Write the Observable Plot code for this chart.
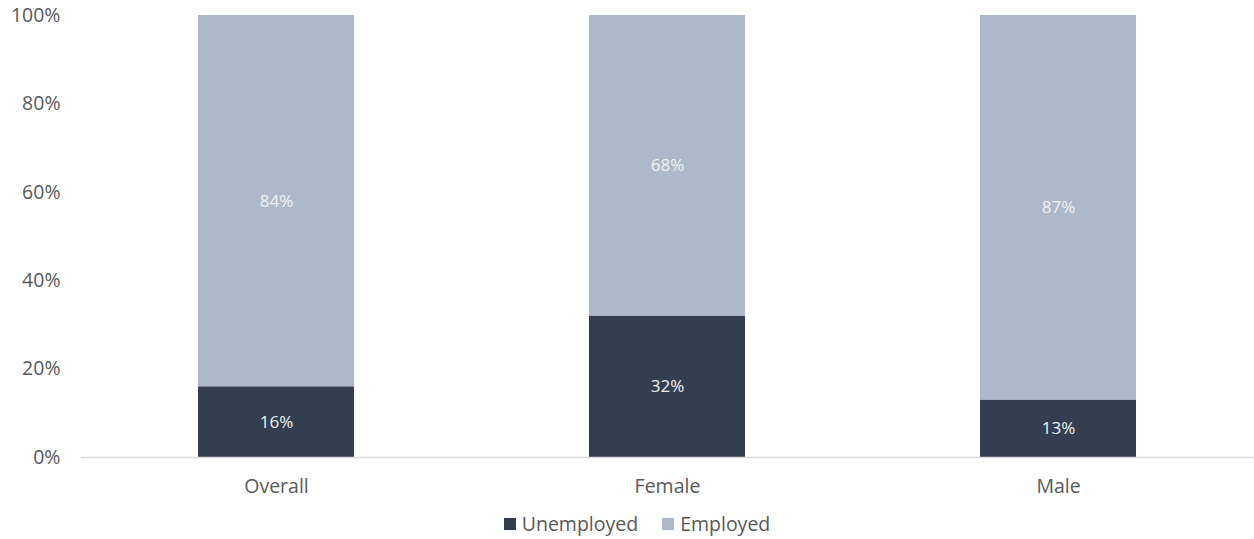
<!DOCTYPE html>
<html>
<head>
<meta charset="utf-8">
<script src="https://cdn.jsdelivr.net/npm/d3@7"></script>
<script src="https://cdn.jsdelivr.net/npm/@observablehq/plot@0.6"></script>
<style>
  html, body { margin: 0; padding: 0; background: #fff; }
  body { width: 1254px; height: 539px; overflow: hidden; font-family: "Open Sans", sans-serif; }
  #legend { display: flex; justify-content: center; gap: 24px; font-size: 19.5px; color: #595959; margin-top: 5px; padding-left: 20px; }
  #legend span.item { display: flex; align-items: center; gap: 6px; }
  #legend span.sw { width: 12px; height: 12px; display: inline-block; }
</style>
</head>
<body>
<div id="chart"></div>
<div id="legend"></div>
<script>
const categories = ["Overall", "Female", "Male"];
const series = ["Unemployed", "Employed"];
const unemployed = [16, 32, 13];
const employed = [84, 68, 87];
const colors = ["#333f50", "#adb9ca"];
const yTicks = [0, 20, 40, 60, 80, 100];

const data = [];
categories.forEach((c, i) => {
  data.push({category: c, series: "Unemployed", value: unemployed[i]});
  data.push({category: c, series: "Employed", value: employed[i]});
});

const chart = Plot.plot({
  width: 1254,
  height: 505,
  marginLeft: 81,
  marginRight: 0,
  marginTop: 15,
  marginBottom: 48,
  style: {fontFamily: "Open Sans, sans-serif", fontSize: "19.5px", color: "#595959", background: "#fff"},
  x: {domain: categories, paddingInner: 0.6, paddingOuter: 0.3, label: null, tickSize: 0, tickPadding: 22},
  y: {domain: [0, 100], ticks: yTicks, tickFormat: d => d + "%", label: null, tickSize: 0, tickPadding: 21},
  color: {domain: series, range: colors},
  marks: [
    Plot.barY(data, {x: "category", y: "value", fill: "series", order: series}),
    Plot.ruleY([0], {stroke: "#d9d9d9", strokeWidth: 1.5}),
    Plot.text(data, Plot.stackY({x: "category", y: "value", z: "series", order: series, text: d => d.value + "%", fill: "#f2f2f2", fontSize: 17}))
  ]
});
document.getElementById("chart").appendChild(chart);

const legend = document.getElementById("legend");
series.forEach((s, i) => {
  const item = document.createElement("span");
  item.className = "item";
  const sw = document.createElement("span");
  sw.className = "sw";
  sw.style.background = colors[i];
  item.appendChild(sw);
  item.appendChild(document.createTextNode(s));
  legend.appendChild(item);
});
</script>
</body>
</html>
